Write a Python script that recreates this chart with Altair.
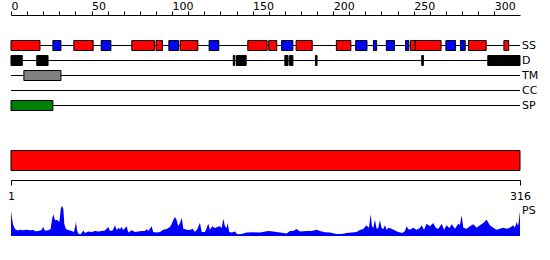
import altair as alt
import pandas as pd

# ---------------- data ----------------
LENGTH = 316
TRACKS = ["SS", "D", "TM", "CC", "SP"]

# secondary structure: H = helix (red), E = strand (blue)
SS_START = [1, 27, 40, 57, 76, 91, 99, 106, 124, 148, 161, 169, 178, 203, 215,
            226, 234, 246, 249, 252, 271, 280, 285, 307]
SS_END = [18, 31, 51, 62, 89, 94, 104, 116, 129, 159, 165, 175, 187, 211, 221,
          227, 238, 247, 251, 267, 276, 282, 295, 309]
SS_KIND = ["H", "E", "H", "E", "H", "H", "E", "H", "E", "H", "H", "E", "H", "H", "E",
           "E", "E", "E", "H", "H", "E", "E", "H", "H"]

# disorder
D_START = [1, 17, 139, 141, 171, 174, 190, 256, 297]
D_END = [7, 23, 139, 146, 172, 175, 190, 256, 316]

# transmembrane, coiled coil, signal peptide
TM_START = [9]
TM_END = [31]
CC_START = []
CC_END = []
SP_START = [1]
SP_END = [26]

# full-length domain bar
DOM_START = [1]
DOM_END = [316]

# PS profile
PS_POS = [0, 0.6, 1.4, 2.5, 3.5, 4.5, 5.6, 7.6, 9.7, 11.8, 13.9, 14.9, 17, 19, 20, 21.1,
          23.2, 24.6, 25.4, 26.3, 27.3, 28.7, 30, 31, 31.7, 32.5, 33.1, 34.1, 35.6, 37.7,
          39.1, 39.9, 40.3, 41, 41.8, 43.3, 44.9, 45.9, 48, 50.1, 52.1, 54.2, 56.3, 58.3,
          60.4, 61.5, 63.1, 64.6, 65.6, 66.6, 67.7, 68.7, 69.7, 70.8, 71.8, 72.8, 74.9, 77,
          79, 81.1, 83.2, 84.2, 85.2, 87.3, 88.3, 90.4, 92.5, 94.5, 96.6, 98.7, 99.7, 100.7,
          101.8, 102.8, 103.8, 104.9, 106, 107, 109.1, 111.1, 112.8, 114.2, 115.7, 117.3,
          118.4, 120.4, 121.5, 122.5, 123.5, 125, 126.6, 128.1, 129.7, 130.8, 131.8, 132.8,
          133.9, 134.5, 135.5, 137, 139, 140.5, 143.2, 146.3, 150.4, 154.6, 159.7, 162.8,
          167, 171.1, 173.2, 175.2, 177.3, 179.4, 183.5, 186.6, 189.8, 191.8, 194.9, 198,
          202.2, 205.3, 208.4, 211.5, 214.6, 216.6, 218.7, 220.7, 222.2, 223.3, 224.1, 224.9,
          225.9, 227, 228, 229, 230.1, 231.1, 232.2, 233.2, 234.2, 236.3, 238.4, 240.4,
          242.9, 244.6, 245.6, 246.6, 247.7, 249.7, 251.8, 253.9, 254.9, 256.4, 258, 260.1,
          262.1, 263.8, 265.3, 267.4, 268.8, 270.4, 272.1, 273.6, 275.6, 277.7, 278.7, 279.8,
          280.8, 282.9, 284.9, 287, 289.1, 291.1, 293.2, 295.3, 297.3, 299.4, 301.5, 303.5,
          305.6, 307.7, 309.7, 311.8, 312.8, 313.9, 314.9, 316]
PS_VAL = [25, 18, 10.7, 7, 6, 5.5, 6.3, 5.7, 6.3, 5.7, 6, 4.7, 5, 6, 9, 5.3,
          5.7, 7, 16, 21.7, 15.7, 16, 14, 28, 30, 27, 12, 7, 6, 5,
          4, 10, 14, 6, 2.3, 1.7, 5.5, 3, 4.5, 4, 5, 4.5, 5, 5.5,
          9, 5, 5.5, 10.7, 6, 8, 7, 9, 6, 8, 9.7, 3.5, 5.7, 4,
          4.5, 5, 5, 7, 5, 9.7, 4, 3.5, 4, 6.3, 7, 9, 12, 16,
          19, 16.3, 9.7, 13, 18.3, 7.3, 6.3, 6, 7.3, 4, 7, 13.3,
          4, 4, 8, 12.3, 6.3, 9.7, 8, 9, 9.7, 8, 17.3, 9.7,
          8, 13, 4, 3.5, 4.5, 1.7, 2, 3.5, 3.7, 3.5, 5, 4.5,
          3.5, 2.5, 5, 5, 7, 4.5, 5, 5, 6.3, 5, 3.7, 3.5,
          2, 2, 3, 3.5, 4, 6, 7, 10.7, 8, 21.7, 10, 8,
          16.3, 7.3, 8, 15.7, 8, 7, 10.7, 6, 8.3, 7.3, 5.5, 4,
          3, 5, 9.7, 7, 6.3, 8.3, 6.3, 8, 10.7, 6.3, 12.3, 9.7,
          13, 8, 7.3, 12.3, 6.3, 10.7, 8, 11.7, 7.3, 12.3, 11, 20.7,
          8.3, 7.3, 9.7, 11.7, 8.3, 10.7, 13, 16.3, 10.7, 8.3, 6.3, 7.3,
          8.3, 7.3, 8.3, 10.7, 8.3, 14, 10, 24.7]

TOP_TICKS = list(range(0, 301, 10))
BOTTOM_TICKS = [1, 316]

# ---------------- layout / style ----------------
W, H = 550, 260
X_RANGE = [11, 520]
TRACK_Y = {"SS": 45.5, "D": 60.5, "TM": 75.5, "CC": 90.5, "SP": 105.5}
BOX_HALF = 5
DOM_Y = (150.5, 170.5)
PS_RANGE = [236, 206]
PS_LABEL_Y = 210.5
FONT = "DejaVu Sans"
FS = 11

XA = alt.Scale(domain=[0, LENGTH], range=X_RANGE, nice=False, zero=False)
XB = alt.Scale(domain=[1, LENGTH], range=X_RANGE, nice=False, zero=False)

top_axis = alt.Axis(orient="top", offset=-15, values=TOP_TICKS,
                    labelExpr="datum.value % 50 == 0 ? datum.label : ''",
                    tickSize=4, labelAlign="left", labelBaseline="alphabetic",
                    labelPadding=2, labelFont=FONT, labelFontSize=FS, labelColor="black",
                    domainColor="black", tickColor="black", grid=False, title=None,
                    labelFlush=False, labelOverlap=False)
bottom_axis = alt.Axis(orient="bottom", offset=-80, values=BOTTOM_TICKS,
                       tickSize=5, labelAlign="center", labelBaseline="alphabetic",
                       labelPadding=14.5, labelFont=FONT, labelFontSize=FS,
                       labelColor="black", domainColor="black", tickColor="black",
                       grid=False, title=None, labelFlush=False, labelOverlap=False)


def feat_df(starts, ends, kinds=None):
    d = pd.DataFrame({"s": [a - 1 for a in starts], "e": list(ends)})
    if kinds is not None:
        d["k"] = kinds
    return d


layers = []
line_df = pd.DataFrame({"s": [0], "e": [LENGTH]})
for i, t in enumerate(TRACKS):
    y = TRACK_Y[t]
    layers.append(
        alt.Chart(line_df).mark_rule(color="black", strokeWidth=1).encode(
            x=alt.X("s:Q", scale=XA, axis=top_axis if i == 0 else None),
            x2="e:Q", y=alt.value(y))
    )
    layers.append(
        alt.Chart(line_df).mark_text(align="left", baseline="middle", font=FONT,
                                     fontSize=FS, color="black", dx=2, text=t).encode(
            x=alt.X("e:Q", scale=XA, axis=None), y=alt.value(y))
    )


def boxes(df, y, **mk):
    return alt.Chart(df).mark_rect(stroke="black", strokeWidth=1, **mk).encode(
        x=alt.X("s:Q", scale=XA, axis=None), x2="e:Q",
        y=alt.value(y - BOX_HALF), y2=alt.value(y + BOX_HALF))


ss = feat_df(SS_START, SS_END, SS_KIND)
layers.append(
    alt.Chart(ss).mark_rect(stroke="black", strokeWidth=1).encode(
        x=alt.X("s:Q", scale=XA, axis=None), x2="e:Q",
        y=alt.value(TRACK_Y["SS"] - BOX_HALF), y2=alt.value(TRACK_Y["SS"] + BOX_HALF),
        fill=alt.Fill("k:N", scale=alt.Scale(domain=["H", "E"], range=["#ff0000", "#0000ff"]),
                      legend=None))
)
layers.append(boxes(feat_df(D_START, D_END), TRACK_Y["D"], fill="#000000"))
layers.append(boxes(feat_df(TM_START, TM_END), TRACK_Y["TM"], fill="#808080"))
if CC_START:
    layers.append(boxes(feat_df(CC_START, CC_END), TRACK_Y["CC"], fill="#ffa500"))
layers.append(boxes(feat_df(SP_START, SP_END), TRACK_Y["SP"], fill="#008000"))

dom = pd.DataFrame({"s": DOM_START, "e": DOM_END})
layers.append(
    alt.Chart(dom).mark_rect(fill="#ff0000", stroke="black", strokeWidth=1).encode(
        x=alt.X("s:Q", scale=XB, axis=bottom_axis), x2="e:Q",
        y=alt.value(DOM_Y[0]), y2=alt.value(DOM_Y[1]))
)

ps = pd.DataFrame({"pos": PS_POS, "val": PS_VAL})
layers.append(
    alt.Chart(ps).mark_area(color="#0000ff", interpolate="linear").encode(
        x=alt.X("pos:Q", scale=XA, axis=None),
        y=alt.Y("val:Q", scale=alt.Scale(domain=[0, 30], range=PS_RANGE), axis=None))
)
layers.append(
    alt.Chart(line_df).mark_text(align="left", baseline="middle", font=FONT,
                                 fontSize=FS, color="black", dx=2, text="PS").encode(
        x=alt.X("e:Q", scale=XA, axis=None), y=alt.value(PS_LABEL_Y))
)

chart = alt.layer(*layers).resolve_scale(x="independent", y="independent").properties(
    width=W, height=H, padding=0, autosize=alt.AutoSizeParams(type="none"),
    background="white"
).configure_view(stroke=None)

chart.save("out.html", embed_options={"renderer": "svg", "actions": False})
